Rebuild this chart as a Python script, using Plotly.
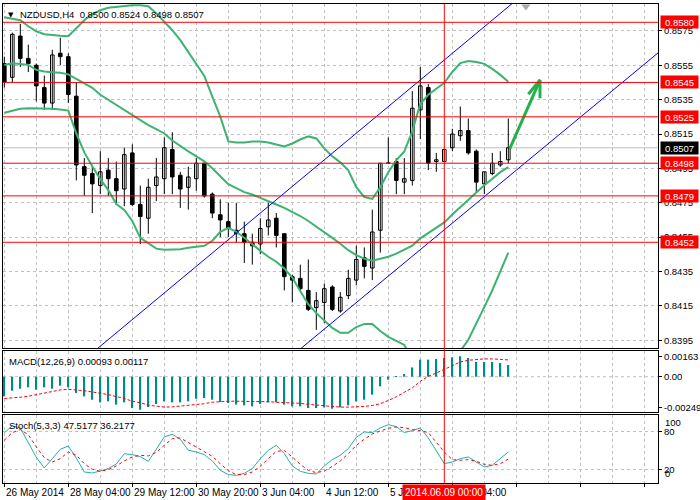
import plotly.graph_objects as go

# ---------------- data ----------------
bars = list(range(64))
open_ = [0.8556,0.8548,0.8572,0.8559,0.8555,0.8542,0.8533,0.8562,0.8560,0.8537,
         0.8496,0.8492,0.8485,0.8494,0.8489,0.8483,0.8504,0.8474,0.8466,0.8485,
         0.8489,0.8506,0.8491,0.8484,0.8489,0.8498,0.8480,0.8468,0.8464,0.8459,
         0.8457,0.8452,0.8451,0.8461,0.8466,0.8457,0.8432,0.8431,0.8424,0.8414,
         0.8417,0.8426,0.8412,0.8421,0.8430,0.8443,0.8437,0.8459,0.8498,0.8499,
         0.8487,0.8488,0.8529,0.8542,0.8499,0.8499,0.8507,0.8514,0.8517,0.8505,
         0.8486,0.8492,0.8497,0.8500]
high = [0.8560,0.8574,0.8579,0.8567,0.8556,0.8549,0.8564,0.8571,0.8562,0.8545,
        0.8501,0.8496,0.8505,0.8501,0.8499,0.8507,0.8509,0.8485,0.8489,0.8501,
        0.8513,0.8516,0.8493,0.8496,0.8501,0.8498,0.8481,0.8477,0.8475,0.8475,
        0.8464,0.8457,0.8466,0.8475,0.8469,0.8457,0.8433,0.8439,0.8442,0.8423,
        0.8428,0.8427,0.8423,0.8436,0.8450,0.8449,0.8471,0.8498,0.8513,0.8501,
        0.8501,0.8540,0.8554,0.8544,0.8504,0.8506,0.8518,0.8531,0.8524,0.8506,
        0.8493,0.8504,0.8505,0.8524]
low = [0.8542,0.8545,0.8554,0.8551,0.8534,0.8529,0.8529,0.8555,0.8533,0.8488,
       0.8479,0.8469,0.8480,0.8479,0.8474,0.8473,0.8473,0.8451,0.8457,0.8476,
       0.8480,0.8480,0.8472,0.8471,0.8482,0.8478,0.8466,0.8455,0.8455,0.8452,
       0.8440,0.8439,0.8445,0.8456,0.8449,0.8424,0.8417,0.8424,0.8412,0.8401,
       0.8405,0.8412,0.8411,0.8419,0.8427,0.8431,0.8430,0.8446,0.8498,0.8480,
       0.8480,0.8485,0.8512,0.8494,0.8493,0.8499,0.8505,0.8511,0.8503,0.8481,
       0.8480,0.8491,0.8496,0.8498]
close = [0.8545,0.8573,0.8559,0.8556,0.8543,0.8533,0.8561,0.8560,0.8538,0.8497,
         0.8491,0.8486,0.8493,0.8489,0.8482,0.8503,0.8474,0.8467,0.8484,0.8490,
         0.8507,0.8490,0.8483,0.8490,0.8498,0.8479,0.8469,0.8465,0.8460,0.8457,
         0.8452,0.8450,0.8460,0.8465,0.8456,0.8432,0.8430,0.8425,0.8413,0.8418,
         0.8425,0.8413,0.8420,0.8431,0.8442,0.8438,0.8458,0.8498,0.8498,0.8488,
         0.8489,0.8530,0.8543,0.8498,0.8500,0.8506,0.8515,0.8517,0.8504,0.8487,
         0.8493,0.8498,0.8499,0.8507]

bb_upper = [0.85829,0.85821,0.85812,0.85777,0.85748,0.85731,0.85725,0.85722,0.85719,0.85766,
            0.85812,0.85847,0.85870,0.85884,0.85890,0.85896,0.85899,0.85899,0.85893,0.85852,
            0.85806,0.85754,0.85696,0.85627,0.85558,0.85488,0.85367,0.85251,0.85107,0.85101,
            0.85101,0.85107,0.85107,0.85101,0.85089,0.85078,0.85095,0.85118,0.85136,0.85124,
            0.85066,0.85020,0.84985,0.84939,0.84841,0.84783,0.84772,0.84841,0.84928,0.84997,
            0.85049,0.85165,0.85326,0.85378,0.85413,0.85448,0.85511,0.85563,0.85575,0.85569,
            0.85558,0.85529,0.85494,0.85454]
bb_middle = [0.85552,0.85562,0.85558,0.85552,0.85523,0.85514,0.85510,0.85506,0.85497,0.85471,
             0.85448,0.85419,0.85378,0.85349,0.85321,0.85292,0.85263,0.85234,0.85202,0.85179,
             0.85153,0.85112,0.85078,0.85049,0.85020,0.84991,0.84951,0.84904,0.84858,0.84835,
             0.84812,0.84798,0.84780,0.84760,0.84740,0.84720,0.84696,0.84673,0.84644,0.84613,
             0.84581,0.84546,0.84512,0.84474,0.84445,0.84425,0.84413,0.84425,0.84436,0.84454,
             0.84477,0.84500,0.84543,0.84575,0.84604,0.84636,0.84682,0.84725,0.84769,0.84812,
             0.84852,0.84890,0.84928,0.84957]
bb_lower = [0.85274,0.85286,0.85297,0.85300,0.85300,0.85300,0.85297,0.85292,0.85286,0.85153,
            0.85043,0.84962,0.84887,0.84824,0.84743,0.84708,0.84644,0.84546,0.84512,0.84483,
            0.84477,0.84477,0.84480,0.84488,0.84494,0.84500,0.84529,0.84581,0.84604,0.84581,
            0.84546,0.84506,0.84471,0.84436,0.84407,0.84367,0.84315,0.84235,0.84160,0.84108,
            0.84062,0.84022,0.83993,0.83993,0.84027,0.84045,0.84045,0.84004,0.83970,0.83947,
            0.83923,0.83835,0.83760,0.83772,0.83795,0.83824,0.83853,0.83887,0.83953,0.84045,
            0.84143,0.84241,0.84356,0.84460]

macd_hist = [-0.00157,-0.00112,-0.00096,-0.00085,-0.00104,-0.00085,-0.00096,-0.00072,-0.00085,-0.00130,
             -0.00157,-0.00184,-0.00205,-0.00197,-0.00223,-0.00205,-0.00250,-0.00264,-0.00242,-0.00218,
             -0.00197,-0.00205,-0.00205,-0.00197,-0.00176,-0.00171,-0.00184,-0.00203,-0.00210,-0.00223,
             -0.00229,-0.00237,-0.00218,-0.00205,-0.00205,-0.00223,-0.00237,-0.00237,-0.00250,-0.00250,
             -0.00245,-0.00256,-0.00245,-0.00229,-0.00197,-0.00184,-0.00144,-0.00077,-0.00024,0.00003,
             0.00021,0.00074,0.00136,0.00136,0.00141,0.00149,0.00154,0.00163,0.00149,0.00118,
             0.00118,0.00118,0.00109,0.00093]
macd_signal = [-0.00174,-0.00172,-0.00164,-0.00156,-0.00143,-0.00132,-0.00114,-0.00106,-0.00101,-0.00104,
               -0.00112,-0.00122,-0.00132,-0.00143,-0.00159,-0.00174,-0.00196,-0.00208,-0.00227,-0.00235,
               -0.00243,-0.00241,-0.00235,-0.00230,-0.00224,-0.00216,-0.00204,-0.00198,-0.00196,-0.00196,
               -0.00196,-0.00198,-0.00200,-0.00200,-0.00204,-0.00206,-0.00208,-0.00213,-0.00221,-0.00227,
               -0.00235,-0.00243,-0.00243,-0.00243,-0.00241,-0.00238,-0.00230,-0.00216,-0.00190,-0.00161,
               -0.00124,-0.00090,-0.00037,0.00003,0.00029,0.00060,0.00087,0.00117,0.00131,0.00139,
               0.00142,0.00142,0.00139,0.00134]

stoch_main = [77.9,88.4,85.3,63.2,38.9,22.1,36.8,51.6,56.8,37.9,
              15.8,14.2,17.4,21.1,28.4,44.7,43.2,40.0,32.6,51.6,
              71.1,75.3,67.4,50.0,47.4,43.2,33.2,18.4,11.6,10.5,
              13.7,21.1,36.8,50.0,57.9,44.7,25.3,16.8,13.7,12.6,
              25.3,35.3,42.1,52.6,70.5,78.9,77.9,85.3,90.5,87.4,
              77.9,81.1,85.3,69.5,48.4,29.0,31.6,36.8,39.5,31.6,
              23.7,26.3,36.8,47.5]
stoch_signal = [65.8,77.9,82.6,74.7,55.3,38.4,31.6,36.8,47.4,42.1,
                28.9,20.0,16.8,19.5,25.3,33.2,39.5,42.1,41.1,46.8,
                57.9,68.4,69.5,62.1,54.7,47.4,40.5,28.9,17.9,11.6,
                11.6,15.8,24.7,36.8,48.4,49.5,39.5,27.9,18.4,14.7,
                17.4,24.7,33.2,44.7,57.9,67.4,75.8,80.5,84.7,86.8,
                85.8,82.6,81.1,77.9,63.2,47.4,35.3,34.2,35.3,32.6,
                27.9,26.3,28.9,36.2]

price_ticks = [0.8395,0.8415,0.8435,0.8455,0.8475,0.8495,0.8515,0.8535,0.8555,0.8575]
levels = [0.8580,0.8545,0.8525,0.8498,0.8479,0.8452]
current_price = 0.8507
crosshair_bar = 55
crosshair_text = "2014.06.09 00:00"
x_label_bars = [0, 8, 16, 24, 32, 40, 48, 56]
x_labels = ["26 May 2014", "28 May 04:00", "29 May 12:00", "30 May 20:00",
            "3 Jun 04:00", "4 Jun 12:00", "5 Jun 20:00", "9 Jun 04:00"]
grid_major = [0, 8, 16, 24, 32, 40, 48, 56, 64, 72, 80]
grid_minor = [4, 12, 20, 28, 36, 44, 52, 60, 68, 76]

# hand-drawn objects (bar index, price)
chan_upper_x = [10, 68];  chan_upper_y = [0.83838, 0.86084]
chan_lower_x = [36, 84];  chan_lower_y = [0.83861, 0.85710]
arrow_x = [63.2, 66.96, None, 65.5, 66.96, 66.96]
arrow_y = [0.85067, 0.85464, None, 0.85381, 0.85464, 0.85358]

title_text = "NZDUSD,H4\u00a0\u00a00.8500 0.8524 0.8498 0.8507"
macd_text = "MACD(12,26,9) 0.00093 0.00117"
stoch_text = "Stoch(5,3,3) 47.5177 36.2177"

# ---------------- figure ----------------
FONT = "Liberation Sans, Arial, sans-serif"
GRID = "#C0C0C0"
GREEN = "#3CB371"

fig = go.Figure()

# wicks
wx, wy = [], []
for k in bars:
    wx += [k, k, None]
    wy += [low[k], high[k], None]
fig.add_trace(go.Scatter(x=wx, y=wy, mode="lines", line=dict(color="black", width=1),
                         xaxis="x", yaxis="y", hoverinfo="skip", showlegend=False))
# bodies
bases = [min(o, c) for o, c in zip(open_, close)]
heights = [max(abs(c - o), 0.00002) for o, c in zip(open_, close)]
fills = ["white" if c >= o else "black" for o, c in zip(open_, close)]
fig.add_trace(go.Bar(x=bars, y=heights, base=bases, width=0.45,
                     marker=dict(color=fills, line=dict(color="black", width=1)),
                     xaxis="x", yaxis="y", showlegend=False, hoverinfo="skip"))

# Bollinger bands
for band in (bb_upper, bb_middle, bb_lower):
    fig.add_trace(go.Scatter(x=bars, y=band, mode="lines", line=dict(color=GREEN, width=2),
                             xaxis="x", yaxis="y", showlegend=False, hoverinfo="skip"))

# channel lines
for cx, cy in ((chan_upper_x, chan_upper_y), (chan_lower_x, chan_lower_y)):
    fig.add_trace(go.Scatter(x=cx, y=cy, mode="lines", line=dict(color="#0000FF", width=1),
                             xaxis="x", yaxis="y", showlegend=False, hoverinfo="skip"))

# arrow
fig.add_trace(go.Scatter(x=arrow_x, y=arrow_y, mode="lines", line=dict(color="#22B14C", width=3),
                         xaxis="x", yaxis="y", showlegend=False, hoverinfo="skip", cliponaxis=False))

# chart-shift marker
fig.add_trace(go.Scatter(x=[65.2], y=[0.85892], mode="markers",
                         marker=dict(symbol="triangle-down", size=8, color="#A9A9A9"),
                         xaxis="x", yaxis="y", showlegend=False, hoverinfo="skip", cliponaxis=False))

# MACD
fig.add_trace(go.Bar(x=bars, y=macd_hist, width=0.22, marker=dict(color="#008B8B", line=dict(width=0)),
                     xaxis="x2", yaxis="y2", showlegend=False, hoverinfo="skip"))
fig.add_trace(go.Scatter(x=bars, y=macd_signal, mode="lines", line=dict(color="red", width=1, dash="3px,2px"),
                         xaxis="x2", yaxis="y2", showlegend=False, hoverinfo="skip"))

# Stochastic
fig.add_trace(go.Scatter(x=bars, y=stoch_main, mode="lines", line=dict(color="#20B2AA", width=1),
                         xaxis="x3", yaxis="y3", showlegend=False, hoverinfo="skip"))
fig.add_trace(go.Scatter(x=bars, y=stoch_signal, mode="lines", line=dict(color="red", width=1, dash="3px,3px"),
                         xaxis="x3", yaxis="y3", showlegend=False, hoverinfo="skip"))

tickfont = dict(family=FONT, size=9.5, color="black")

def xax(**extra):
    d = dict(range=[-0.1625, 81.7125], showgrid=True, gridcolor=GRID, griddash="3px,3px", gridwidth=1,
             tickmode="array", tickvals=grid_major, showticklabels=False, ticks="",
             minor=dict(tickmode="array", tickvals=grid_minor, showgrid=True, gridcolor=GRID,
                        griddash="3px,3px", gridwidth=1, ticks=""),
             showline=True, mirror=True, linecolor="black", linewidth=1, zeroline=False,
             automargin=False, fixedrange=True)
    d.update(extra)
    return d

def yax(**extra):
    d = dict(side="right", showline=True, mirror=True, linecolor="black", linewidth=1,
             zeroline=False, ticks="outside", ticklen=3, tickcolor="black", tickfont=tickfont,
             automargin=False, fixedrange=True)
    d.update(extra)
    return d

fig.update_layout(
    template="none",
    width=700, height=500,
    margin=dict(l=3, r=42, t=4, b=17),
    paper_bgcolor="white", plot_bgcolor="white",
    barmode="overlay", hovermode=False, showlegend=False,
    font=dict(family=FONT, size=9.5, color="black"),
    xaxis=xax(anchor="y"),
    xaxis2=xax(anchor="y2", matches="x"),
    xaxis3=xax(anchor="y3", matches="x", ticks="outside", ticklen=3, tickcolor="black"),
    yaxis=yax(domain=[0.28184, 1.0], range=[0.83905, 0.859064], tickmode="array",
              tickvals=price_ticks, ticktext=[f"{v:.4f}" for v in price_ticks],
              showgrid=True, gridcolor=GRID, griddash="3px,3px"),
    yaxis2=yax(domain=[0.14823, 0.27557], range=[-0.00282, 0.00205], tickmode="array",
               tickvals=[0.00163, 0.0, -0.00249], ticktext=["0.00163", "0.00", "-0.00249"],
               showgrid=False),
    yaxis3=yax(domain=[0.0, 0.14196], range=[-1.6, 105.7], tickmode="array",
               tickvals=[20, 80], ticktext=["20", "80"],
               showgrid=True, gridcolor=GRID, griddash="3px,3px"),
)

shapes = []
shapes.append(dict(type="line", xref="paper", x0=0, x1=1, yref="y", y0=current_price, y1=current_price,
                   line=dict(color="#C0C0C0", width=1), layer="below"))
shapes.append(dict(type="line", xref="paper", x0=0, x1=1, yref="y2", y0=0, y1=0,
                   line=dict(color=GRID, width=1, dash="3px,3px"), layer="below"))
for lv in levels:
    shapes.append(dict(type="line", xref="paper", x0=0, x1=1, yref="y", y0=lv, y1=lv,
                       line=dict(color="#FF0000", width=1)))
shapes.append(dict(type="line", xref="x", x0=crosshair_bar, x1=crosshair_bar, yref="paper", y0=0, y1=1,
                   line=dict(color="#FF0000", width=1)))
fig.update_layout(shapes=shapes)

ann = []
ann.append(dict(xref="paper", x=0, xanchor="left", xshift=3, yref="paper", y=1, yanchor="top", yshift=-5,
                text="\u25BC", showarrow=False, font=dict(family="DejaVu Sans", size=7, color="black")))
ann.append(dict(xref="paper", x=0, xanchor="left", xshift=15, yref="paper", y=1, yanchor="top", yshift=-3,
                text=title_text, showarrow=False, font=dict(family=FONT, size=9.5, color="black")))
ann.append(dict(xref="paper", x=0, xanchor="left", xshift=4, yref="paper", y=0.27557, yanchor="top", yshift=-3,
                text=macd_text, showarrow=False, font=dict(family=FONT, size=9.5, color="black")))
ann.append(dict(xref="paper", x=0, xanchor="left", xshift=4, yref="paper", y=0.14196, yanchor="top", yshift=-3,
                text=stoch_text, showarrow=False, font=dict(family=FONT, size=9.5, color="black")))
ann.append(dict(xref="paper", x=1, xanchor="left", xshift=5, yref="y3", y=100, yshift=-4,
                text="100", showarrow=False, font=tickfont))
ann.append(dict(xref="paper", x=1, xanchor="left", xshift=5, yref="y3", y=0, yshift=8,
                text="0", showarrow=False, font=tickfont))
for lv in levels:
    ann.append(dict(xref="paper", x=1, xanchor="left", xshift=2, yref="y", y=lv,
                    text=f"{lv:.4f}", showarrow=False, bgcolor="#FF0000", borderpad=1,
                    width=35, height=10, font=dict(family=FONT, size=9.5, color="white")))
ann.append(dict(xref="paper", x=1, xanchor="left", xshift=2, yref="y", y=current_price,
                text=f"{current_price:.4f}", showarrow=False, bgcolor="black", borderpad=1,
                width=35, height=10, font=dict(family=FONT, size=9.5, color="white")))
for k, t in zip(x_label_bars, x_labels):
    ann.append(dict(xref="x3", x=k, xanchor="left", yref="paper", y=0, yanchor="top", yshift=-2,
                    text=t, showarrow=False, font=dict(family=FONT, size=10, color="black")))
ann.append(dict(xref="x3", x=crosshair_bar, xanchor="center", yref="paper", y=0, yanchor="top", yshift=-1,
                text=crosshair_text, showarrow=False, bgcolor="#FF0000", borderpad=2,
                font=dict(family=FONT, size=10, color="white")))
fig.update_layout(annotations=ann)

fig.write_html("out.html")
